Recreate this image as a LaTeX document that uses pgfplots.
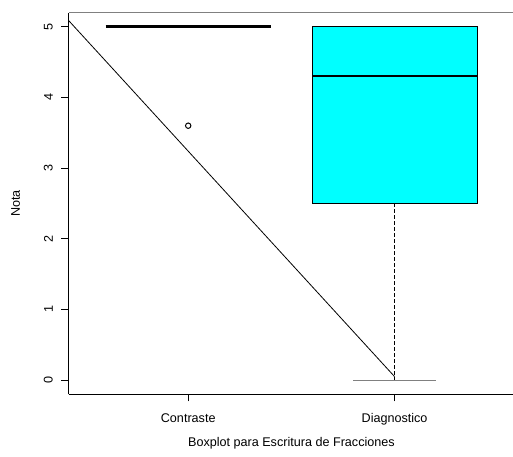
\documentclass[border=0pt]{standalone}
\usepackage{fontspec}
\setmainfont{Liberation Sans}
\usepackage{pgfplots}
\pgfplotsset{compat=1.18}
\definecolor{rcyan}{RGB}{0,255,255}
\newcommand{\rfont}{\fontsize{12.6bp}{15bp}\selectfont}
\begin{document}
\rfont
\begin{tikzpicture}
\useasboundingbox (0,0) rectangle (513bp,457bp);
\begin{axis}[
  at={(68.5bp,62.7bp)}, anchor=south west,
  scale only axis, width=445.8bp, height=381.7bp,
  xmin=0.42, xmax=2.58, ymin=-0.2, ymax=5.2,
  clip=false,
  axis x line*=bottom, axis y line*=left,
  axis line style={line width=1bp, black, -},
  xtick={1,2}, xticklabels={Contraste,Diagnostico},
  ytick={0,1,2,3,4,5},
  tick align=outside, major tick length=7bp,
  tick style={black, line width=0.8bp},
  /pgf/number format/assume math mode=true,
  tick label style={font=\rfont},
  xticklabel style={anchor=base, inner sep=0pt, yshift=-20.7bp},
  yticklabel style={rotate=90, anchor=south, inner sep=0pt, yshift=8.5bp},
  xlabel={Boxplot para Escritura de Fracciones},
  ylabel={Nota},
  label style={font=\rfont},
  xlabel style={at={(axis description cs:0.5,-0.1368)}, anchor=base, inner sep=0pt},
  ylabel style={at={(axis description cs:-0.1088,0.5)}, anchor=base, inner sep=0pt},
]
% diagonal line
\addplot[black, line width=0.8bp] coordinates {(0.42,5.09) (2,0.05)};
% Diagnostico box
\addplot[fill=rcyan, draw=black, line width=1bp] coordinates {(1.6,2.5) (2.4,2.5) (2.4,5) (1.6,5)} -- cycle;
\addplot[black, line width=2.5bp] coordinates {(1.6,4.3) (2.4,4.3)};
\addplot[black, line width=0.8bp, dash pattern=on 3.5bp off 2.5bp] coordinates {(2,2.5) (2,0)};
\addplot[gray, line width=1.2bp] coordinates {(1.8,0) (2.2,0)};
% Contraste (degenerate box at 5)
\addplot[black, line width=2.5bp] coordinates {(0.6,5) (1.4,5)};
\addplot[only marks, mark=o, mark size=2.7bp, mark options={line width=1bp, black}] coordinates {(1,3.6)};
% top frame line
\draw[gray, line width=1bp] (rel axis cs:0,1) -- (rel axis cs:1,1);
\end{axis}
\end{tikzpicture}
\end{document}
